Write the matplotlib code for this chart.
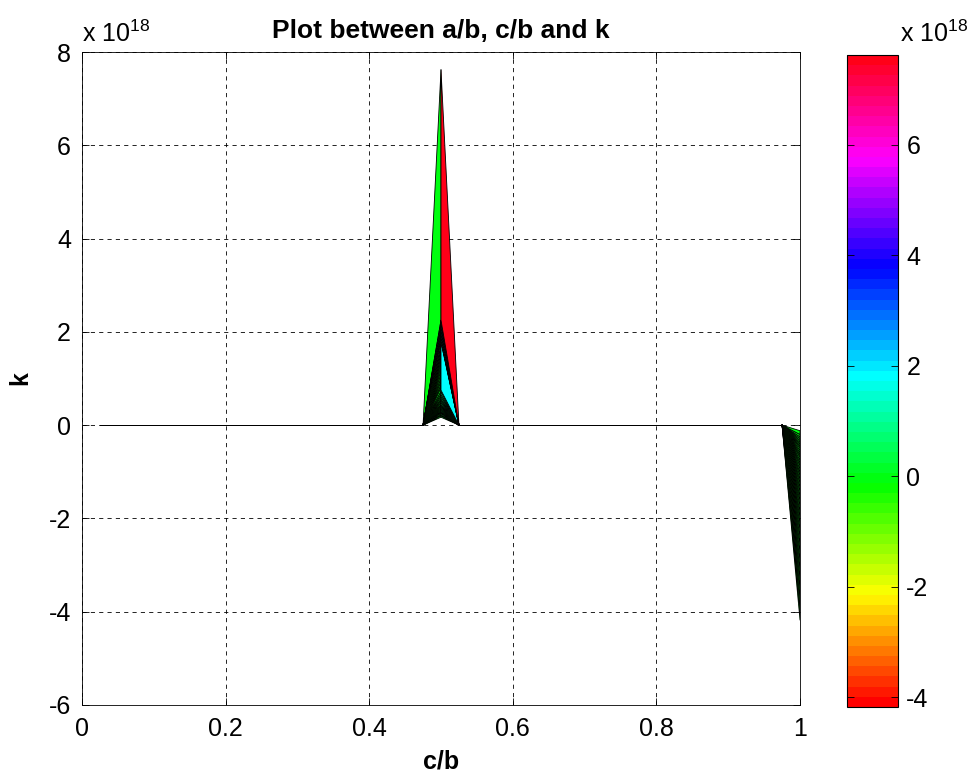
import numpy as np
import matplotlib
matplotlib.use("Agg")
import matplotlib.pyplot as plt
from matplotlib.collections import PolyCollection
from matplotlib.colors import ListedColormap, Normalize, hsv_to_rgb

plt.rcParams['font.family'] = ['Liberation Sans', 'DejaVu Sans']
plt.rcParams['mathtext.fontset'] = 'custom'
plt.rcParams['mathtext.rm'] = 'Liberation Sans'
plt.rcParams['axes.unicode_minus'] = False

# c/b grid (columns of the surface)
c_b = [0.025, 0.05, 0.075, 0.1, 0.125, 0.15, 0.175, 0.2, 0.225, 0.25,
       0.275, 0.3, 0.325, 0.35, 0.375, 0.4, 0.425, 0.45, 0.475, 0.5,
       0.525, 0.55, 0.575, 0.6, 0.625, 0.65, 0.675, 0.7, 0.725, 0.75,
       0.775, 0.8, 0.825, 0.85, 0.875, 0.9, 0.925, 0.95, 0.975, 1.0]

# k (x 1e18) at c/b = 0.5, one value per a/b row
k_at_half = [7.62, 2.25, 2.18, 2.10, 2.02, 1.95, 1.88, 1.82, 1.78, 0.75,
             1.72, 1.64, 1.56, 1.48, 1.40, 1.32, 1.24, 1.16, 1.08, 1.00,
             0.93, 0.86, 0.80, 0.72, 0.66, 0.61, 0.56, 0.52, 0.48, 0.44,
             0.41, 0.38, 0.35, 0.32, 0.29, 0.27, 0.25, 0.22, 0.20, 0.17]

# k (x 1e18) at c/b = 1, one value per a/b row
k_at_one = [-4.18, -3.95, -3.72, -3.50, -3.29, -3.09, -2.90, -2.72, -2.55, -2.39,
            -2.24, -2.10, -1.97, -1.85, -1.73, -1.62, -1.52, -1.42, -1.33, -1.24,
            -1.16, -1.08, -1.01, -0.94, -0.87, -0.81, -0.75, -0.69, -0.64, -0.59,
            -0.54, -0.49, -0.45, -0.41, -0.37, -0.33, -0.29, -0.25, -0.20, -0.12]

# k is zero everywhere else
Z = np.zeros((len(k_at_half), len(c_b)))
Z[:, c_b.index(0.5)] = k_at_half
Z[:, c_b.index(1.0)] = k_at_one

# surface seen side on (view(0,0)): each patch projected onto the c/b-k plane
verts, cvals = [], []
for i in range(Z.shape[0] - 1):
    for j in range(Z.shape[1] - 1):
        verts.append([(c_b[j], Z[i, j]), (c_b[j + 1], Z[i, j + 1]),
                      (c_b[j + 1], Z[i + 1, j + 1]), (c_b[j], Z[i + 1, j])])
        cvals.append(Z[i, j])
cvals = np.array(cvals)
order = np.argsort(cvals, kind='stable')

h = np.arange(64) / 64.0
cmap = ListedColormap(hsv_to_rgb(np.column_stack([h, np.ones(64), np.ones(64)])))
norm = Normalize(vmin=Z.min(), vmax=Z.max())

fig = plt.figure(figsize=(9.76, 7.76), dpi=100)
ax = fig.add_axes([82/976, 71/776, 718/976, 653/776])
cax = fig.add_axes([847/976, 69/776, 51/976, 652/776])

pc = PolyCollection([verts[k] for k in order], array=cvals[order], cmap=cmap,
                    norm=norm, edgecolors='k', linewidths=0.6)
ax.add_collection(pc)

ax.set_xlim(0, 1)
ax.set_ylim(-6, 8)
ax.set_xticks([0, 0.2, 0.4, 0.6, 0.8, 1])
ax.set_xticklabels(['0', '0.2', '0.4', '0.6', '0.8', '1'])
ax.set_yticks([-6, -4, -2, 0, 2, 4, 6, 8])
ax.set_yticklabels(['-6', '-4', '-2', '0', '2', '4', '6', '8'])
ax.tick_params(direction='in', top=True, right=True, length=5, width=0.6,
               labelsize=18)
ax.tick_params(axis='x', pad=9)
ax.tick_params(axis='y', pad=8)
ax.grid(True, color='k', linestyle=(0, (5, 5)), linewidth=0.6)
ax.set_axisbelow(True)
for s in ax.spines.values():
    s.set_linewidth(0.6)

ax.set_title('Plot between a/b, c/b and k', fontsize=19, fontweight='bold', pad=10)
ax.set_xlabel('c/b', fontsize=18, fontweight='bold', labelpad=6)
ax.set_ylabel('k', fontsize=18, fontweight='bold', labelpad=12)
fig.text(82/976, 1 - 42/776, r'x 10$^{18}$', fontsize=18)

cb = fig.colorbar(pc, cax=cax, ticks=[-4, -2, 0, 2, 4, 6])
cb.ax.set_yticklabels(['-4', '-2', '0', '2', '4', '6'])
cb.ax.tick_params(direction='in', left=True, right=True, length=5, width=0.6,
                  labelsize=18, pad=6)
cb.outline.set_linewidth(0.8)
fig.text(900/976, 1 - 42/776, r'x 10$^{18}$', fontsize=18)

fig.savefig('out.png', dpi=100)
